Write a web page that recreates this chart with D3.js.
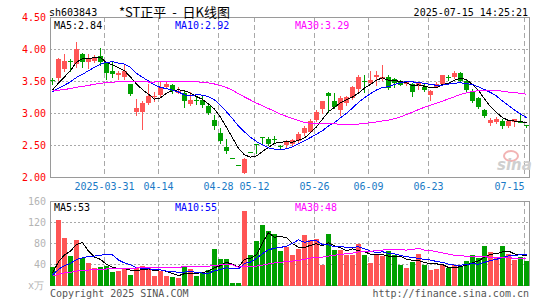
<!DOCTYPE html>
<html>
<head>
<meta charset="utf-8">
<script src="https://cdn.jsdelivr.net/npm/d3@7"></script>
<style>
  body { margin: 0; background: #fff; }
  text { font-family: "DejaVu Sans Mono", "Liberation Mono", monospace; font-size: 10px; }
</style>
</head>
<body>
<div id="wrapper"></div>
<script>
// Trading sessions shown on the chart (2025).
const dates = [
  "2025-03-18","2025-03-19","2025-03-20","2025-03-21","2025-03-24","2025-03-25","2025-03-26","2025-03-27","2025-03-28","2025-03-31",
  "2025-04-01","2025-04-02","2025-04-03","2025-04-07","2025-04-08","2025-04-09","2025-04-10","2025-04-11","2025-04-14","2025-04-15",
  "2025-04-16","2025-04-17","2025-04-18","2025-04-21","2025-04-22","2025-04-23","2025-04-24","2025-04-25","2025-04-28","2025-04-29",
  "2025-05-06","2025-05-07","2025-05-08","2025-05-09","2025-05-12","2025-05-13","2025-05-14","2025-05-15","2025-05-16","2025-05-19",
  "2025-05-20","2025-05-21","2025-05-22","2025-05-23","2025-05-26","2025-05-27","2025-05-28","2025-05-29","2025-05-30","2025-06-03",
  "2025-06-04","2025-06-05","2025-06-06","2025-06-09","2025-06-10","2025-06-11","2025-06-12","2025-06-13","2025-06-16","2025-06-17",
  "2025-06-18","2025-06-19","2025-06-20","2025-06-23","2025-06-24","2025-06-25","2025-06-26","2025-06-27","2025-06-30","2025-07-01",
  "2025-07-02","2025-07-03","2025-07-04","2025-07-07","2025-07-08","2025-07-09","2025-07-10","2025-07-11","2025-07-14","2025-07-15",
];

const opens = [
  3.52,3.54,3.69,3.82,3.76,3.92,3.79,3.82,3.89,3.78, 3.65,3.60,3.56,3.45,3.02,3.02,3.16,3.25,3.28,3.41,
  3.44,3.32,3.31,3.14,3.20,3.21,3.11,2.89,2.68,2.47, 2.29,2.18,2.07,2.39,2.51,2.63,2.59,2.60,2.48,2.50,
  2.51,2.56,2.68,2.71,2.89,3.07,3.32,3.19,3.05,3.15, 3.24,3.38,3.50,3.47,3.56,3.53,3.57,3.53,3.50,3.45,
  3.46,3.44,3.41,3.28,3.41,3.45,3.56,3.56,3.62,3.50, 3.33,3.23,3.05,2.84,2.86,2.88,2.80,2.86,2.86,2.81,
];
const closes = [
  3.51,3.84,3.81,3.81,4.00,3.79,3.85,3.88,3.80,3.62, 3.61,3.62,3.66,3.30,3.08,3.16,3.27,3.27,3.40,3.45,
  3.35,3.35,3.19,3.21,3.19,3.12,3.00,2.79,2.57,2.41, 2.29,2.18,2.28,2.39,2.51,2.63,2.51,2.59,2.47,2.56,
  2.58,2.67,2.77,2.88,3.02,3.18,3.26,3.10,3.24,3.25, 3.40,3.57,3.49,3.52,3.59,3.57,3.39,3.47,3.44,3.49,
  3.33,3.47,3.36,3.35,3.46,3.59,3.55,3.62,3.50,3.36, 3.19,3.10,2.95,2.89,2.90,2.80,2.88,2.90,2.86,2.80,
];
const highs = [
  3.55,3.86,3.92,3.85,4.11,3.93,3.92,3.91,4.02,3.80, 3.82,3.66,3.75,3.46,3.22,3.19,3.45,3.33,3.48,3.49,
  3.46,3.40,3.35,3.33,3.25,3.26,3.12,2.97,2.76,2.60, 2.29,2.18,2.29,2.39,2.51,2.63,2.62,2.64,2.50,2.58,
  2.60,2.70,2.79,2.90,3.04,3.19,3.33,3.31,3.27,3.27, 3.42,3.60,3.59,3.65,3.65,3.75,3.59,3.55,3.51,3.50,
  3.47,3.49,3.45,3.36,3.48,3.60,3.59,3.65,3.64,3.51, 3.37,3.25,3.06,2.92,2.93,2.90,2.89,2.90,3.00,2.82,
];
const lows = [
  3.46,3.52,3.66,3.65,3.72,3.72,3.71,3.79,3.75,3.53, 3.57,3.53,3.53,3.28,2.97,2.75,3.14,3.18,3.27,3.40,
  3.31,3.31,3.09,3.12,3.14,3.09,2.99,2.75,2.53,2.38, 2.29,2.18,2.07,2.39,2.38,2.51,2.50,2.54,2.45,2.45,
  2.49,2.55,2.66,2.70,2.88,3.00,3.02,3.08,2.97,3.12, 3.22,3.35,3.33,3.46,3.44,3.52,3.37,3.40,3.43,3.43,
  3.27,3.38,3.35,3.21,3.40,3.44,3.51,3.55,3.49,3.34, 3.17,3.08,2.93,2.81,2.84,2.77,2.78,2.79,2.86,2.78,
];
// Volume, in units of 10,000 shares.
const volumes = [
  34,123,89,55,85,52,41,32,34,37, 25,27,32,20,32,36,33,17,27,17,
  15,13,36,30,17,22,28,68,49,49, 3,3,141,58,84,114,102,97,65,72,
  58,68,95,85,87,38,98,66,66,58, 57,79,57,41,57,55,64,58,38,32,
  44,60,39,28,30,38,32,38,36,46, 58,52,74,62,53,74,60,47,53,46,
];

// Sessions before 03-18 (off screen): they only seed the moving averages.
const priorCloses = [
  3.42,3.45,3.40,3.36,3.38,3.41,3.35,3.33,3.37,3.40,3.36,3.34,3.37,
  3.31,3.28,3.30,3.27,3.29,3.31,3.26, 3.28,3.32,3.29,3.31,3.30, 3.30,3.33,3.31,3.35,
];
const priorVolumes = [
  14,18,15,17,16,19,13,15,17,16,18,14,16,15,17,16,18,15,14,17, 14,16,15,13,17, 18,22,19,22,
];

const tickDates = ["2025-03-31","2025-04-14","2025-04-28","2025-05-12","2025-05-26","2025-06-09","2025-06-23","2025-07-15"];
const priceTicks = [2.00, 2.50, 3.00, 3.50, 4.00, 4.50];
const volumeTicks = [40, 80, 120, 160];
const maPeriods = [5, 10, 30];
const priceMaLabels = ["2.84", "2.92", "3.29"];
const volumeMaLabels = ["53", "55", "48"];

const symbol = "sh603843";
const title = "*ST正平\u00a0\u00a0-\u00a0\u00a0日K线图";
const timestamp = "2025-07-15 14:25:21";

function drawChart() {

  // 1. Access data

  const candles = dates.map((date, i) => ({
    date,
    open: opens[i],
    close: closes[i],
    high: highs[i],
    low: lows[i],
    volume: volumes[i],
  }));

  // moving average over the visible values, reaching back into the history
  const movingAverage = (values, history, period) => {
    const all = history.concat(values);
    return values.map((_d, i) => {
      const end = history.length + i + 1;
      return d3.mean(all.slice(end - period, end));
    });
  };

  const priceMas = maPeriods.map(p => movingAverage(closes, priorCloses, p));
  const volumeMas = maPeriods.map(p => movingAverage(volumes, priorVolumes, p));

  const isUp = d => d.close > d.open;

  // 2. Create chart dimensions

  const dimensions = {
    width: 545,
    height: 300,
    left: 50,
    right: 529,
    price: { top: 17, bottom: 177 },
    volume: { top: 201, bottom: 285 },
  };

  const colors = {
    up: "#ff5555",
    down: "#00a000",
    ma: ["#000000", "#0000ff", "#ff00ff"],
    grid: "#a8a8a8",
    border: "#9a9a9a",
    priceAxis: "#ff0000",
    volumeAxis: "#b4b4b4",
    dateAxis: "#1a7ac6",
  };

  // 3. Draw canvas

  const wrapper = d3.select("#wrapper")
    .append("svg")
      .attr("width", dimensions.width)
      .attr("height", dimensions.height);

  // 4. Create scales

  const xScale = d3.scaleBand()
      .domain(dates)
      .range([dimensions.left - 1, dimensions.right]);
  const xCenter = d => xScale(d) + 3.5;
  const xGrid = d => xScale(d) + 1.5;

  const yPrice = d3.scaleLinear()
      .domain([2, 4.5])
      .range([dimensions.price.bottom, dimensions.price.top]);

  const yVolume = d3.scaleLinear()
      .domain([0, 160])
      .range([dimensions.volume.bottom, dimensions.volume.top]);

  const crisp = v => Math.round(v) + 0.5;

  // 5. Draw peripherals (grids first so marks sit on top)

  const drawGrid = (top, bottom, yScale, gridValues) => {
    const grid = wrapper.append("g");
    grid.selectAll(".h-grid")
      .data(gridValues)
      .join("line")
        .attr("x1", dimensions.left)
        .attr("x2", dimensions.right)
        .attr("y1", d => crisp(yScale(d)))
        .attr("y2", d => crisp(yScale(d)))
        .attr("stroke", colors.grid)
        .attr("stroke-dasharray", "2,2");
    grid.selectAll(".v-grid")
      .data(tickDates)
      .join("line")
        .attr("x1", xGrid)
        .attr("x2", xGrid)
        .attr("y1", top)
        .attr("y2", bottom)
        .attr("stroke", colors.grid)
        .attr("stroke-dasharray", "5,3");
    grid.append("rect")
        .attr("x", dimensions.left + 0.5)
        .attr("y", top + 0.5)
        .attr("width", dimensions.right - dimensions.left)
        .attr("height", bottom - top)
        .attr("fill", "none")
        .attr("stroke", colors.border);
  };

  drawGrid(dimensions.price.top, dimensions.price.bottom, yPrice, [2.5, 3.0, 3.5, 4.0]);
  drawGrid(dimensions.volume.top, dimensions.volume.bottom, yVolume, [40, 80, 120]);

  // 6. Draw data: candles

  const candleGroup = wrapper.append("g");

  candleGroup.selectAll(".wick")
    .data(candles)
    .join("line")
      .attr("x1", d => xCenter(d.date))
      .attr("x2", d => xCenter(d.date))
      .attr("y1", d => Math.round(yPrice(d.high)))
      .attr("y2", d => Math.round(yPrice(d.low)) + 1)
      .attr("stroke", d => isUp(d) ? colors.up : colors.down);

  candleGroup.selectAll(".body")
    .data(candles)
    .join("rect")
      .attr("x", d => xScale(d.date) + 1)
      .attr("width", 5)
      .attr("y", d => Math.round(yPrice(Math.max(d.open, d.close))))
      .attr("height", d => Math.max(1,
        Math.round(yPrice(Math.min(d.open, d.close))) - Math.round(yPrice(Math.max(d.open, d.close)))))
      .attr("fill", d => isUp(d) ? colors.up : colors.down);

  const line = (values, yScale) => d3.line()
      .x((_d, i) => xCenter(dates[i]))
      .y(d => yScale(d))(values);

  wrapper.append("g")
    .selectAll("path")
    .data(priceMas)
    .join("path")
      .attr("d", d => line(d, yPrice))
      .attr("fill", "none")
      .attr("stroke", (_d, i) => colors.ma[i])
      .attr("stroke-width", 1)
      .attr("shape-rendering", "crispEdges");

  // volume bars

  wrapper.append("g")
    .selectAll("rect")
    .data(candles)
    .join("rect")
      .attr("x", d => xScale(d.date) + 1)
      .attr("width", 5)
      .attr("y", d => Math.round(yVolume(d.volume)))
      .attr("height", d => dimensions.volume.bottom + 1 - Math.round(yVolume(d.volume)))
      .attr("fill", d => isUp(d) ? colors.up : colors.down);

  wrapper.append("g")
    .selectAll("path")
    .data(volumeMas)
    .join("path")
      .attr("d", d => line(d, yVolume))
      .attr("fill", "none")
      .attr("stroke", (_d, i) => colors.ma[i])
      .attr("stroke-width", 1)
      .attr("shape-rendering", "crispEdges");

  // 7. Axes and labels

  wrapper.append("g")
    .selectAll("text")
    .data(priceTicks)
    .join("text")
      .attr("x", 46)
      .attr("y", d => yPrice(d))
      .attr("dy", "0.35em")
      .attr("text-anchor", "end")
      .attr("fill", colors.priceAxis)
      .text(d => d.toFixed(2));

  wrapper.append("g")
    .selectAll("text")
    .data(volumeTicks)
    .join("text")
      .attr("x", 46)
      .attr("y", d => yVolume(d))
      .attr("dy", "0.35em")
      .attr("text-anchor", "end")
      .attr("fill", colors.volumeAxis)
      .text(d => d);

  wrapper.append("text")
      .attr("x", 44)
      .attr("y", 285)
      .attr("dy", "0.35em")
      .attr("text-anchor", "end")
      .attr("fill", colors.volumeAxis)
      .text("x万");

  wrapper.append("g")
    .selectAll("text")
    .data(tickDates)
    .join("text")
      .attr("x", xGrid)
      .attr("y", 186)
      .attr("dy", "0.35em")
      .attr("text-anchor", (_d, i) => i === tickDates.length - 1 ? "end" : "middle")
      .attr("fill", colors.dateAxis)
      .text((d, i) => i === 0 ? d : d.slice(5));

  const maLabelX = [54, 175, 295];
  const maLabel = (values, y) => wrapper.append("g")
    .selectAll("text")
    .data(values)
    .join("text")
      .attr("x", (_d, i) => maLabelX[i])
      .attr("y", y)
      .attr("dy", "0.35em")
      .attr("fill", (_d, i) => colors.ma[i])
      .text((d, i) => `MA${maPeriods[i]}:${d}`);

  maLabel(priceMaLabels, 25);
  maLabel(volumeMaLabels, 207);

  // header
  wrapper.append("text")
      .attr("x", 49)
      .attr("y", 12)
      .attr("dy", "0.35em")
      .text(symbol);
  wrapper.append("text")
      .attr("x", 119)
      .attr("y", 12)
      .attr("dy", "0.35em")
      .style("font-family", "'Noto Sans CJK SC', sans-serif")
      .style("font-size", "13px")
      .text(title);
  wrapper.append("text")
      .attr("x", 528)
      .attr("y", 12)
      .attr("dy", "0.35em")
      .attr("text-anchor", "end")
      .text(timestamp);

  // footer
  wrapper.append("text")
      .attr("x", 50)
      .attr("y", 293)
      .attr("dy", "0.35em")
      .attr("fill", "#555")
      .text("Copyright 2025 SINA.COM");
  wrapper.append("text")
      .attr("x", 529)
      .attr("y", 293)
      .attr("dy", "0.35em")
      .attr("text-anchor", "end")
      .attr("fill", "#555")
      .text("http://finance.sina.com.cn");

  // sina watermark
  const logo = wrapper.append("g")
      .attr("transform", "translate(497, 152)");
  logo.append("ellipse")
      .attr("cx", 14)
      .attr("cy", 4)
      .attr("rx", 7)
      .attr("ry", 5)
      .attr("fill", "none")
      .attr("stroke", "#f2b4b4")
      .attr("stroke-width", 2);
  logo.append("text")
      .attr("x", 0)
      .attr("y", 18)
      .attr("fill", "#cfcfcf")
      .style("font-family", "'DejaVu Sans', sans-serif")
      .style("font-size", "15px")
      .style("font-weight", "bold")
      .style("font-style", "italic")
      .text("sina");
}
drawChart();
</script>
</body>
</html>
